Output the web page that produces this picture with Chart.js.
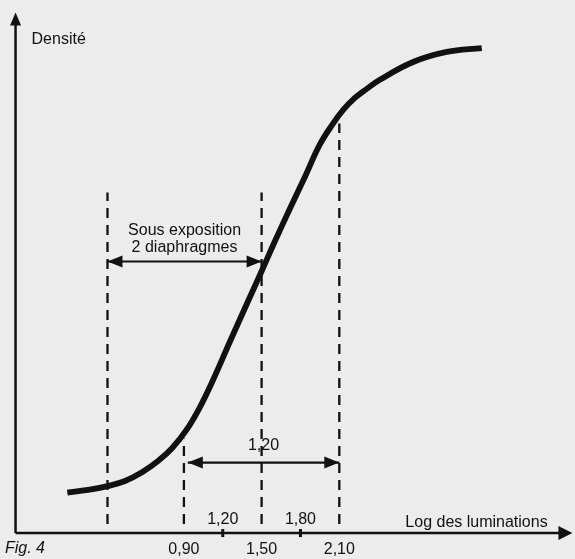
<!DOCTYPE html>
<html lang="fr">
<head>
  <meta charset="UTF-8">
  <title>Fig. 4</title>
  <script src="https://cdn.jsdelivr.net/npm/chart.js"></script>
  <style>
    body { margin: 0; background: #ececec; }
    #wrap { width: 575px; height: 559px; }
  </style>
</head>
<body>
<div id="wrap"><canvas id="fig4" width="575" height="559"></canvas></div>

<script>
  // courbe caracteristique (log des luminations / densite)
  var curveLog = [0.00, 0.16, 0.31, 0.445, 0.58, 0.70, 0.81, 0.92, 1.02, 1.125, 1.255, 1.39,
                  1.50, 1.60, 1.72, 1.835, 1.95, 2.05, 2.13, 2.22, 2.31, 2.41, 2.67, 2.93, 3.20];
  var curveDensity = [0.27, 0.287, 0.313, 0.347, 0.407, 0.48, 0.567, 0.687, 0.833, 1.02, 1.275, 1.535,
                      1.745, 1.94, 2.165, 2.375, 2.59, 2.727, 2.82, 2.90, 2.96, 3.02, 3.14, 3.207, 3.233];

  // repères verticaux en pointillés
  var guideLog = [0.31, 0.90, 1.50, 2.10];
  var guideTop = [2.27, 0.63, 2.27, 2.73];

  // graduations de l'axe
  var tickValues = [0.90, 1.20, 1.50, 1.80, 2.10];
  var tickLabels = ['0,90', '1,20', '1,50', '1,80', '2,10'];
  var tickAbove = [false, true, false, true, false];

  // flèches d'intervalle
  var spanFrom = [0.31, 0.93];
  var spanTo = [1.50, 2.10];
  var spanDensity = [1.81, 0.47];

  var ink = '#111111';
  var font = '16px "Liberation Sans", Arial, sans-serif';

  var datasets = [{
    data: curveLog.map(function (v, i) { return { x: v, y: curveDensity[i] }; }),
    borderColor: ink,
    borderWidth: 5.8,
    borderCapStyle: 'butt',
    tension: 0.4,
    pointRadius: 0
  }];

  guideLog.forEach(function (v, i) {
    datasets.push({
      data: [{ x: v, y: 0.06 }, { x: v, y: guideTop[i] }],
      borderColor: ink,
      borderWidth: 2.3,
      borderDash: [10, 7],
      borderCapStyle: 'butt',
      pointRadius: 0
    });
  });

  spanFrom.forEach(function (v, i) {
    datasets.push({
      data: [{ x: v, y: spanDensity[i] }, { x: spanTo[i], y: spanDensity[i] }],
      borderColor: ink,
      borderWidth: 2.2,
      pointRadius: 0
    });
  });

  function head(ctx, x, y, dir, len, half) {
    ctx.beginPath();
    if (dir === 'left') { ctx.moveTo(x, y); ctx.lineTo(x + len, y - half); ctx.lineTo(x + len, y + half); }
    if (dir === 'right') { ctx.moveTo(x, y); ctx.lineTo(x - len, y - half); ctx.lineTo(x - len, y + half); }
    if (dir === 'up') { ctx.moveTo(x, y); ctx.lineTo(x - half, y + len); ctx.lineTo(x + half, y + len); }
    ctx.closePath();
    ctx.fill();
  }

  var annotations = {
    id: 'annotations',
    afterDatasetsDraw: function (chart) {
      var ctx = chart.ctx;
      var xs = chart.scales.x, ys = chart.scales.y;
      var x0 = xs.getPixelForValue(-0.40);
      var y0 = ys.getPixelForValue(0);
      ctx.save();
      ctx.fillStyle = ink;
      ctx.strokeStyle = ink;

      // axes
      ctx.lineWidth = 2.5;
      ctx.beginPath();
      ctx.moveTo(x0, y0);
      ctx.lineTo(xs.getPixelForValue(3.80), y0);
      ctx.moveTo(x0, y0);
      ctx.lineTo(x0, ys.getPixelForValue(3.40));
      ctx.stroke();
      head(ctx, xs.getPixelForValue(3.90), y0, 'right', 14, 7);
      head(ctx, x0, ys.getPixelForValue(3.47), 'up', 13, 5.5);

      // flèches d'intervalle
      spanFrom.forEach(function (v, i) {
        var y = ys.getPixelForValue(spanDensity[i]);
        head(ctx, xs.getPixelForValue(v), y, 'left', 15, 6);
        head(ctx, xs.getPixelForValue(spanTo[i]), y, 'right', 15, 6);
      });

      // graduations
      ctx.font = font;
      ctx.textAlign = 'center';
      ctx.textBaseline = 'middle';
      tickValues.forEach(function (v, i) {
        var x = xs.getPixelForValue(v);
        if (tickAbove[i]) {
          ctx.fillRect(x - 1.5, y0 - 4, 3, 8);
          ctx.fillText(tickLabels[i], x, y0 - 13);
        } else {
          ctx.fillText(tickLabels[i], x, y0 + 17);
        }
      });

      // textes
      var mid0 = xs.getPixelForValue((spanFrom[0] + spanTo[0]) / 2);
      var sy = ys.getPixelForValue(spanDensity[0]);
      ctx.fillText('Sous exposition', mid0, sy - 31);
      ctx.fillText('2 diaphragmes', mid0, sy - 14);
      var mid1 = xs.getPixelForValue((spanFrom[1] + spanTo[1]) / 2);
      ctx.fillText('1,20', mid1, ys.getPixelForValue(spanDensity[1]) - 17);

      ctx.textAlign = 'left';
      ctx.fillText('Densité', x0 + 16, ys.getPixelForValue(3.29));
      ctx.fillText('Log des luminations', xs.getPixelForValue(2.61), y0 - 10);
      ctx.font = 'italic ' + font;
      ctx.fillText('Fig. 4', 5, y0 + 16);
      ctx.restore();
    }
  };

  new Chart(document.getElementById('fig4'), {
    type: 'line',
    data: { datasets: datasets },
    options: {
      responsive: false,
      animation: false,
      events: [],
      layout: { padding: 0 },
      plugins: { legend: { display: false }, tooltip: { enabled: false } },
      elements: { line: { tension: 0, fill: false } },
      datasets: { line: { clip: false } },
      scales: {
        x: { type: 'linear', min: -0.52, max: 3.92, display: false },
        y: { type: 'linear', min: -0.173, max: 3.553, display: false }
      }
    },
    plugins: [annotations]
  });
</script>
</body>
</html>
